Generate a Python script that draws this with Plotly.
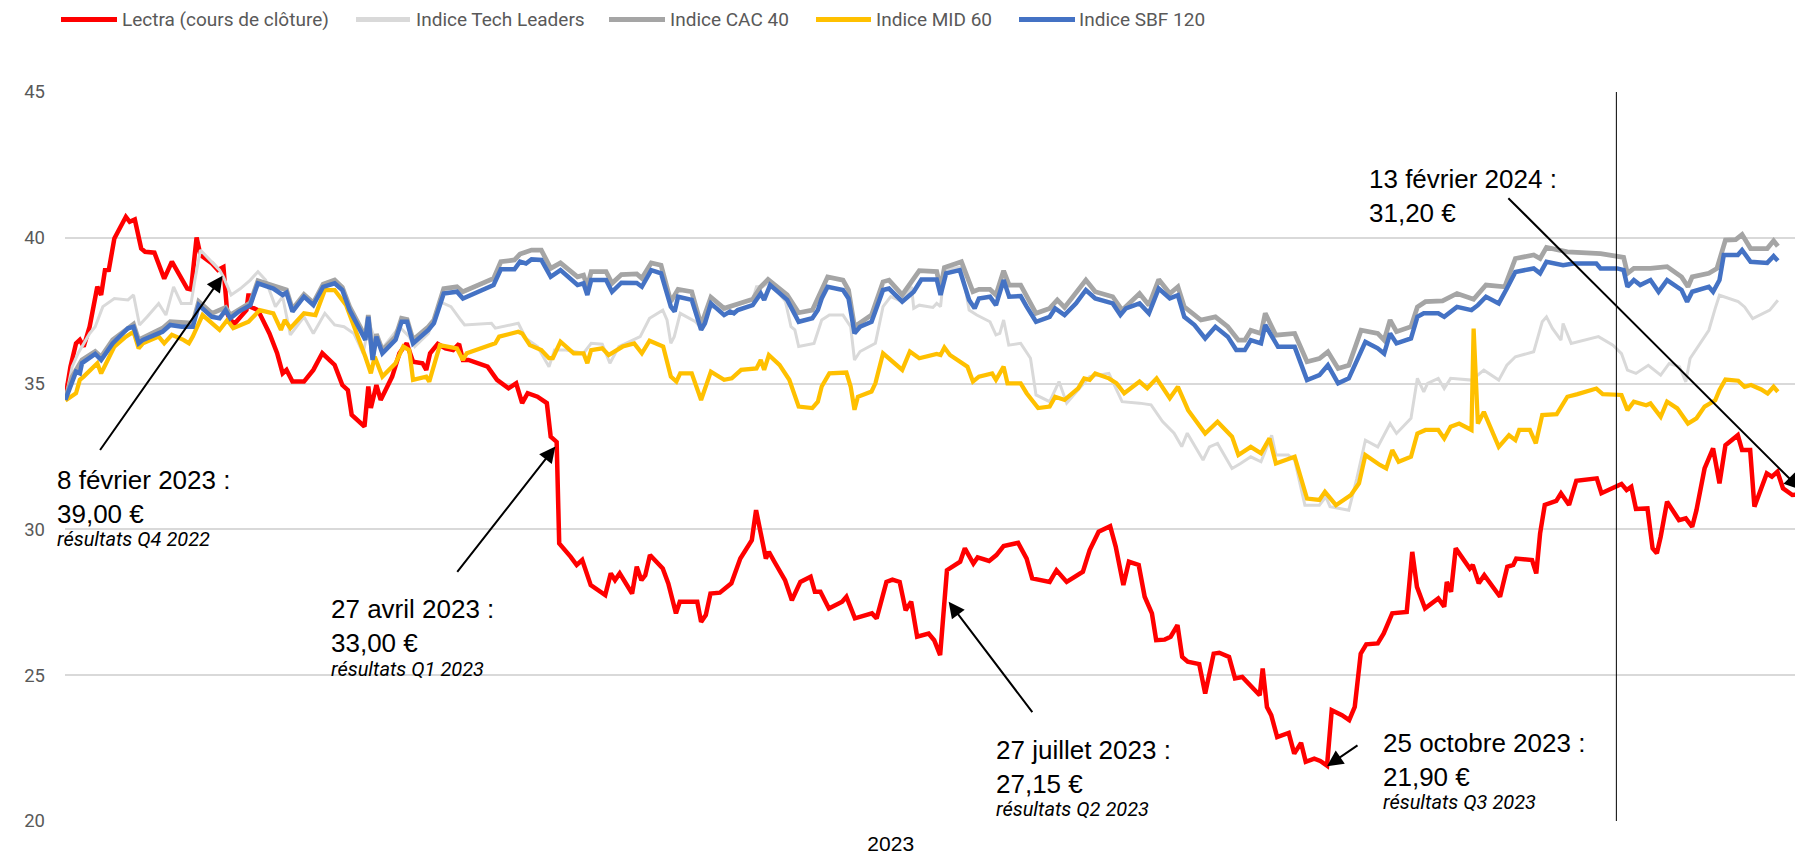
import pandas as pd
from plotly import graph_objects as go

# jour 0 = 2 janvier 2023, valeurs en euros / indices rebasés
START = pd.Timestamp("2023-01-02")

lectra = [(0, 34.5), (1.2, 35.58), (2.5, 36.38), (3.4, 36.5), (4.3, 36.27), (5.7, 36.95), (7.5, 38.32), (8.4, 38.04),
          (9.3, 38.89), (10.2, 38.9), (11.5, 39.98), (14.2, 40.72), (15.1, 40.55), (16.3, 40.63), (17.8, 39.63),
          (18.7, 39.52), (20.9, 39.49), (23.2, 38.6), (25.0, 39.18), (28.6, 38.26), (29.5, 38.23), (30.8, 40.01),
          (31.7, 39.41), (34.4, 39.12), (35.8, 38.9), (37.1, 39.0), (38.0, 37.41), (38.7, 37.18), (39.8, 37.07),
          (42.5, 37.52), (43.0, 38.09), (43.4, 37.64), (45.2, 37.52), (47.9, 36.72), (49.7, 36.04), (51.0, 35.35),
          (51.9, 35.47), (53.3, 35.07), (56.0, 35.07), (58.2, 35.47), (60.3, 36.04), (63.2, 35.64), (65.0, 34.95),
          (66.3, 34.78), (67.2, 33.93), (70.2, 33.53), (71.1, 34.9), (71.7, 34.16), (73.0, 34.95), (74.0, 34.44),
          (76.7, 35.24), (78.4, 36.04), (80.1, 36.38), (81.6, 35.75), (83.8, 35.7), (84.7, 35.47), (85.6, 36.04),
          (87.4, 36.36), (89.2, 36.21), (91.0, 36.15), (92.4, 36.36), (93.3, 35.81), (94.6, 35.81), (99.1, 35.58),
          (101.3, 35.13), (104.0, 34.84), (105.8, 35.01), (107.2, 34.33), (108.5, 34.67), (110.8, 34.55),
          (113.0, 34.33), (113.9, 33.18), (115.3, 33.0), (115.9, 29.52), (118.6, 29.06), (120.0, 28.78),
          (121.3, 28.95), (123.3, 28.09), (126.7, 27.75), (128.0, 28.49), (129.0, 28.26), (130.1, 28.49),
          (133.0, 27.8), (134.1, 28.72), (135.2, 28.26), (136.1, 28.43), (137.2, 29.12), (140.2, 28.66),
          (141.5, 28.15), (143.3, 27.12), (144.2, 27.52), (148.3, 27.52), (149.2, 26.83), (150.3, 27.06),
          (151.4, 27.8), (153.6, 27.83), (156.3, 28.15), (158.4, 29.0), (161.1, 29.63), (162.1, 30.66),
          (164.4, 29.0), (165.1, 29.23), (166.4, 28.89), (168.9, 28.26), (170.5, 27.57), (172.5, 28.2),
          (174.9, 28.38), (175.9, 27.86), (177.2, 27.86), (179.2, 27.29), (182.3, 27.52), (183.3, 27.69),
          (185.3, 26.95), (189.3, 27.12), (190.4, 26.95), (192.7, 28.2), (194.1, 28.28), (195.8, 28.2),
          (197.2, 27.23), (198.5, 27.52), (199.9, 26.32), (202.6, 26.43), (203.9, 26.2), (205.3, 25.69),
          (206.9, 28.6), (208.7, 28.78), (210.0, 28.89), (211.1, 29.35), (213.1, 28.83), (214.1, 29.04),
          (216.8, 28.92), (218.5, 29.12), (220.2, 29.43), (223.6, 29.54), (225.6, 29.0), (226.9, 28.32),
          (231.0, 28.2), (232.6, 28.6), (235.0, 28.2), (238.8, 28.55), (240.4, 29.29), (242.5, 29.92),
          (245.2, 30.11), (246.5, 29.41), (248.3, 28.09), (249.6, 28.89), (251.9, 28.78), (253.3, 27.69),
          (255.0, 27.12), (256.0, 26.2), (258.0, 26.22), (259.4, 26.32), (261.0, 26.72), (262.1, 25.63),
          (263.4, 25.46), (266.1, 25.38), (267.5, 24.37), (269.5, 25.74), (270.8, 25.77), (273.1, 25.63),
          (274.5, 24.89), (276.2, 24.94), (278.3, 24.6), (280.3, 24.31), (281.0, 25.23), (282.0, 23.91),
          (283.0, 23.63), (284.4, 22.88), (287.1, 23.02), (288.4, 22.31), (290.0, 22.68), (291.1, 22.03),
          (293.1, 22.14), (294.5, 22.06), (296.1, 21.9), (297.2, 23.8), (299.6, 23.63), (301.3, 23.46),
          (302.6, 23.91), (304.0, 25.74), (305.3, 26.06), (308.0, 26.09), (309.4, 26.43), (311.4, 27.12),
          (314.8, 27.17), (316.1, 29.23), (317.2, 28.03), (319.1, 27.29), (322.2, 27.63), (323.6, 27.35),
          (324.2, 28.2), (325.2, 27.86), (326.3, 29.35), (329.6, 28.66), (330.3, 28.78), (331.7, 28.15),
          (333.0, 28.43), (336.7, 27.69), (338.4, 28.72), (339.8, 28.78), (340.5, 29.0), (344.2, 28.95),
          (345.2, 28.49), (346.1, 29.86), (347.2, 30.84), (349.9, 30.98), (351.0, 31.24), (352.9, 30.84),
          (354.6, 31.67), (359.4, 31.75), (360.5, 31.24), (362.1, 31.35), (365.2, 31.56), (366.4, 31.35),
          (367.5, 31.46), (368.6, 30.7), (371.3, 30.72), (372.5, 29.35), (373.5, 29.18), (374.4, 29.75),
          (375.9, 30.95), (378.7, 30.32), (380.3, 30.38), (381.8, 30.09), (382.8, 30.66), (384.7, 32.09),
          (386.7, 32.78), (388.2, 31.58), (389.6, 32.89), (392.5, 33.23), (393.5, 32.72), (395.4, 32.72),
          (396.4, 30.78), (399.3, 31.92), (400.5, 31.81), (401.8, 31.98), (403.1, 31.41), (405.3, 31.18),
          (407.2, 31.2)]

tech_leaders = [(0, 34.44), (1.6, 35.58), (3.0, 36.04), (5.7, 36.72), (7.0, 36.95), (8.8, 37.64), (11.5, 37.92),
                (14.7, 37.87), (16.0, 38.04), (17.4, 37.01), (19.2, 37.29), (21.9, 37.75), (23.6, 37.35),
                (25.4, 38.32), (27.2, 37.75), (29.5, 37.75), (30.4, 38.55), (31.7, 39.58), (36.2, 38.89),
                (37.1, 38.66), (38.9, 38.04), (41.1, 38.26), (43.4, 38.55), (45.2, 38.84), (47.0, 38.55),
                (49.3, 37.64), (51.0, 37.98), (52.8, 36.67), (56.0, 37.29), (58.2, 36.72), (60.9, 37.41),
                (63.2, 37.01), (65.4, 36.95), (67.7, 36.72), (69.9, 36.04), (71.3, 37.07), (73.0, 36.38),
                (74.4, 36.21), (78.4, 36.95), (80.7, 36.61), (82.0, 36.27), (85.2, 36.72), (87.9, 37.81),
                (90.5, 37.64), (92.8, 37.18), (93.7, 37.01), (100.0, 37.07), (100.9, 36.9), (106.3, 37.07),
                (108.1, 36.55), (110.8, 36.27), (113.5, 35.58), (114.8, 36.15), (117.5, 36.15), (121.6, 36.04),
                (123.4, 36.38), (126.0, 36.35), (127.8, 35.7), (129.9, 36.27), (133.5, 36.5), (134.9, 36.61),
                (137.1, 37.24), (140.2, 37.52), (141.2, 37.18), (142.1, 36.38), (142.9, 36.61), (144.3, 37.41),
                (147.9, 37.12), (149.2, 36.9), (151.5, 37.64), (154.6, 37.52), (156.4, 37.64), (161.3, 37.87),
                (162.2, 38.32), (163.6, 38.32), (165.4, 38.49), (169.0, 37.81), (170.3, 36.95), (171.2, 36.84),
                (172.1, 36.27), (175.7, 36.38), (177.5, 37.18), (179.3, 37.35), (182.5, 37.35), (184.3, 36.95),
                (185.2, 35.81), (186.5, 36.1), (190.1, 36.38), (191.9, 37.64), (193.7, 37.98), (196.4, 37.81),
                (198.6, 38.32), (199.1, 37.58), (200.4, 37.69), (203.6, 37.61), (204.5, 37.75), (205.4, 37.64),
                (206.3, 38.9), (210.3, 39.0), (212.1, 37.52), (213.9, 37.35), (217.0, 37.12), (218.4, 36.67),
                (219.3, 36.72), (220.2, 37.18), (221.4, 36.32), (224.2, 36.38), (226.5, 35.87), (227.8, 34.61),
                (231.0, 34.38), (233.2, 35.07), (235.0, 34.33), (238.1, 34.84), (240.4, 35.24), (244.9, 35.35),
                (248.0, 34.38), (252.1, 34.33), (254.8, 34.27), (257.5, 33.7), (260.2, 33.3), (262.0, 32.84),
                (263.3, 33.3), (267.0, 32.38), (268.5, 32.83), (270.4, 32.95), (273.8, 32.09), (275.8, 32.26),
                (278.2, 32.49), (280.6, 32.32), (283.1, 33.23), (284.1, 32.55), (287.0, 32.55), (288.5, 32.38),
                (290.9, 30.83), (294.3, 30.83), (295.8, 31.12), (296.8, 30.78), (301.2, 30.66), (303.1, 31.75),
                (305.1, 33.06), (308.0, 32.83), (310.9, 33.63), (312.4, 33.29), (315.8, 33.81), (317.3, 35.18),
                (318.8, 34.72), (319.7, 35.01), (322.2, 35.18), (323.6, 34.83), (325.1, 35.18), (330.0, 35.12),
                (332.9, 35.46), (336.4, 35.12), (338.3, 35.63), (340.3, 35.92), (343.2, 36.03), (344.6, 36.09),
                (346.6, 37.12), (347.6, 37.29), (349.0, 36.89), (351.0, 36.49), (351.5, 37.06), (353.4, 36.38),
                (359.8, 36.61), (363.2, 36.32), (365.2, 36.03), (366.6, 35.46), (368.6, 35.35), (371.5, 35.63),
                (374.4, 35.29), (376.4, 35.69), (378.8, 35.58), (380.3, 35.06), (381.3, 35.86), (385.7, 36.83),
                (387.2, 37.58), (388.2, 38.03), (392.6, 37.81), (394.1, 37.63), (396.0, 37.23), (398.5, 37.41),
                (400.0, 37.52), (401.9, 37.86)]

cac40 = [(0, 34.5), (1.6, 35.24), (3.9, 35.81), (7.0, 36.1), (8.4, 35.92), (11.1, 36.5), (16.0, 37.04), (17.2, 36.5),
         (22.8, 36.9), (24.6, 37.12), (29.9, 37.07), (31.3, 37.81), (34.4, 37.41), (37.6, 37.61), (38.7, 37.35),
         (43.4, 37.77), (45.2, 38.53), (48.8, 38.34), (51.9, 38.21), (53.3, 37.55), (56.0, 38.06), (58.2, 37.77),
         (60.5, 38.41), (63.2, 38.55), (65.0, 38.3), (66.7, 37.64), (70.4, 36.61), (71.1, 37.35), (72.1, 35.92),
         (73.0, 36.7), (74.4, 36.15), (77.5, 36.61), (78.9, 37.24), (80.2, 37.2), (81.6, 36.5), (85.2, 36.95),
         (86.5, 37.18), (88.8, 38.26), (91.9, 38.32), (93.3, 38.15), (100.5, 38.61), (102.2, 39.18), (105.4, 39.24),
         (106.7, 39.44), (109.4, 39.58), (111.7, 39.58), (113.9, 38.95), (116.2, 39.14), (120.2, 38.66),
         (121.6, 38.72), (122.5, 38.32), (123.4, 38.84), (126.9, 38.84), (128.3, 38.44), (130.5, 38.74),
         (134.1, 38.76), (135.3, 38.61), (137.5, 39.14), (139.8, 39.06), (142.1, 37.81), (143.8, 38.23),
         (147.0, 38.15), (149.2, 37.01), (151.5, 37.96), (154.6, 37.58), (157.8, 37.73), (161.3, 37.89),
         (163.2, 38.32), (164.9, 38.57), (169.4, 38.04), (172.1, 37.43), (175.3, 37.52), (178.9, 38.66),
         (182.5, 38.55), (183.8, 38.21), (185.2, 36.95), (189.2, 37.35), (191.9, 38.49), (193.3, 38.55),
         (196.4, 38.04), (200.4, 38.87), (204.5, 38.84), (205.4, 38.26), (206.3, 38.98), (210.3, 39.18),
         (213.0, 38.15), (214.4, 38.23), (217.0, 38.23), (218.4, 38.04), (220.2, 38.87), (221.5, 38.38),
         (224.2, 38.38), (227.8, 37.41), (231.0, 37.58), (232.8, 37.87), (234.5, 37.61), (239.5, 38.55),
         (241.7, 38.15), (245.8, 37.98), (248.0, 37.52), (252.1, 38.09), (254.3, 37.69), (256.6, 38.57),
         (259.2, 38.09), (261.1, 38.32), (262.6, 37.63), (266.5, 37.18), (269.9, 37.29), (272.8, 36.95),
         (275.3, 36.49), (276.8, 36.49), (278.2, 36.83), (280.6, 36.72), (281.6, 37.41), (284.1, 36.66),
         (288.5, 36.72), (291.4, 35.75), (294.3, 35.86), (296.3, 36.09), (298.7, 35.52), (301.2, 35.63),
         (304.1, 36.83), (308.0, 36.72), (309.5, 36.49), (310.9, 37.18), (312.4, 36.78), (315.8, 36.95),
         (317.3, 37.63), (319.2, 37.81), (323.2, 37.84), (326.6, 38.09), (330.5, 37.89), (333.4, 38.38),
         (337.8, 38.32), (340.3, 39.29), (344.6, 39.41), (346.1, 39.29), (347.6, 39.67), (352.5, 39.52),
         (360.3, 39.46), (363.2, 39.37), (365.7, 39.33), (366.6, 38.78), (368.1, 38.95), (372.0, 38.95),
         (375.9, 39.01), (379.3, 38.66), (380.8, 38.32), (381.8, 38.66), (385.7, 38.78), (387.6, 38.95),
         (389.6, 39.92), (392.0, 39.94), (393.5, 40.11), (395.5, 39.63), (399.4, 39.63), (400.9, 39.9),
         (401.9, 39.71)]

mid60 = [(0, 34.42), (2.5, 34.67), (3.4, 35.13), (4.3, 35.24), (7.5, 35.7), (8.4, 35.35), (11.5, 36.27), (14.2, 36.61),
         (16.0, 36.78), (17.2, 36.21), (18.2, 36.38), (21.9, 36.61), (23.2, 36.38), (25.0, 36.67), (27.7, 36.5),
         (29.0, 36.38), (29.9, 36.61), (32.2, 37.35), (36.2, 36.84), (38.0, 37.18), (39.4, 36.9), (43.0, 37.12),
         (45.6, 37.52), (48.8, 37.41), (50.6, 36.84), (51.5, 37.18), (52.8, 36.9), (56.0, 37.41), (58.7, 37.35),
         (60.9, 38.21), (63.2, 38.21), (65.9, 37.69), (70.4, 35.92), (71.7, 35.35), (72.6, 35.92), (74.4, 35.24),
         (77.5, 35.7), (79.3, 36.27), (80.7, 36.15), (81.6, 35.13), (84.7, 35.24), (85.4, 35.07), (87.9, 36.32),
         (91.9, 36.21), (93.3, 35.81), (94.2, 36.04), (100.9, 36.38), (101.8, 36.61), (106.3, 36.78), (107.2, 36.72),
         (109.0, 36.32), (111.7, 36.15), (113.5, 35.87), (114.4, 35.87), (116.2, 36.44), (119.3, 36.04),
         (121.6, 36.04), (122.5, 35.7), (123.4, 36.15), (126.0, 36.21), (127.5, 35.98), (130.8, 36.27),
         (133.5, 36.38), (135.3, 36.04), (137.1, 36.47), (140.3, 36.27), (142.1, 35.24), (143.4, 35.07),
         (144.3, 35.35), (147.0, 35.35), (149.2, 34.44), (151.5, 35.41), (154.6, 35.13), (156.4, 35.18),
         (158.6, 35.47), (162.2, 35.52), (163.2, 35.81), (164.0, 35.47), (165.1, 35.98), (167.6, 35.64),
         (169.9, 35.13), (172.1, 34.21), (175.3, 34.16), (176.6, 34.38), (177.5, 34.9), (179.3, 35.35),
         (183.3, 35.38), (184.3, 34.9), (185.2, 34.1), (186.0, 34.55), (189.2, 34.73), (190.1, 35.01),
         (191.9, 36.04), (196.4, 35.47), (198.2, 36.1), (200.4, 35.87), (204.5, 36.02), (205.4, 35.98),
         (206.3, 36.24), (207.6, 35.98), (211.7, 35.58), (213.0, 35.07), (214.4, 35.24), (217.5, 35.35),
         (218.4, 35.13), (220.2, 35.58), (221.1, 35.01), (224.2, 35.01), (225.6, 34.67), (228.3, 34.16),
         (231.0, 34.21), (232.3, 34.55), (234.5, 34.44), (237.7, 34.84), (239.1, 35.18), (240.4, 35.13),
         (241.7, 35.35), (244.9, 35.18), (246.7, 35.01), (248.5, 34.67), (252.1, 35.07), (253.9, 34.84),
         (256.1, 35.18), (259.2, 34.5), (261.1, 34.89), (263.5, 34.09), (267.5, 33.29), (270.4, 33.69),
         (273.8, 33.18), (275.3, 32.55), (278.2, 32.83), (280.6, 32.61), (282.6, 33.12), (284.1, 32.26),
         (288.5, 32.49), (291.4, 31.06), (294.3, 31.01), (295.6, 31.29), (298.2, 30.83), (301.7, 31.18),
         (303.6, 31.58), (305.1, 32.55), (308.5, 32.21), (310.0, 32.09), (311.4, 32.72), (312.9, 32.32),
         (315.8, 32.49), (317.3, 33.29), (319.2, 33.41), (322.2, 33.41), (323.6, 33.12), (325.1, 33.52),
         (327.1, 33.63), (330.0, 33.41), (330.5, 36.89), (331.5, 33.63), (332.9, 34.03), (336.4, 32.83),
         (338.8, 33.23), (340.3, 33.06), (341.2, 33.41), (343.7, 33.41), (345.1, 32.95), (346.6, 33.92),
         (350.0, 33.95), (352.5, 34.55), (354.9, 34.64), (359.3, 34.83), (360.8, 34.64), (365.2, 34.61),
         (366.6, 34.09), (368.1, 34.38), (371.0, 34.26), (372.0, 34.32), (374.4, 33.86), (375.9, 34.38),
         (378.3, 34.15), (380.8, 33.63), (382.8, 33.81), (384.7, 34.21), (387.2, 34.43), (388.2, 34.78),
         (389.6, 35.14), (392.6, 35.1), (394.1, 34.89), (395.6, 34.95), (398.0, 34.8), (399.5, 34.66),
         (400.9, 34.89), (401.9, 34.72)]

sbf120 = [(0, 34.44), (1.6, 35.13), (2.5, 35.41), (3.4, 35.35), (3.9, 35.7), (7.0, 36.02), (8.4, 35.81), (11.1, 36.38),
          (14.7, 36.9), (16.0, 36.95), (17.2, 36.38), (18.2, 36.5), (22.8, 36.78), (24.6, 37.01), (27.3, 36.95),
          (29.9, 36.95), (31.3, 37.69), (34.4, 37.29), (36.2, 37.24), (37.6, 37.52), (38.7, 37.24), (40.7, 37.47),
          (43.4, 37.69), (45.2, 38.44), (48.8, 38.26), (51.0, 38.04), (51.9, 38.12), (53.3, 37.47), (56.0, 37.98),
          (58.2, 37.69), (60.5, 38.32), (63.2, 38.44), (65.0, 38.21), (66.7, 37.52), (70.4, 36.5), (71.1, 37.29),
          (72.1, 35.81), (73.0, 36.61), (74.4, 36.04), (77.5, 36.5), (78.9, 37.12), (80.2, 37.12), (81.6, 36.38),
          (85.2, 36.84), (86.5, 37.07), (88.8, 38.09), (91.9, 38.15), (93.3, 37.92), (100.5, 38.38), (102.2, 38.92),
          (105.4, 38.92), (106.7, 39.18), (108.1, 39.12), (109.4, 39.26), (111.7, 39.24), (113.9, 38.66),
          (116.2, 38.89), (120.2, 38.38), (121.6, 38.44), (122.5, 38.04), (123.4, 38.55), (126.9, 38.55),
          (128.3, 38.15), (130.5, 38.46), (134.1, 38.45), (135.3, 38.32), (137.5, 38.89), (139.8, 38.78),
          (142.1, 37.64), (143.0, 37.47), (143.8, 37.98), (147.0, 37.87), (149.2, 36.84), (150.1, 37.07),
          (151.5, 37.75), (154.6, 37.35), (156.0, 37.47), (156.9, 37.41), (157.8, 37.52), (161.3, 37.69),
          (163.2, 38.09), (164.0, 37.87), (165.4, 38.38), (169.4, 37.87), (170.8, 37.52), (172.1, 37.12),
          (175.3, 37.24), (176.6, 37.52), (177.5, 37.92), (178.9, 38.32), (182.5, 38.21), (183.8, 37.92),
          (185.2, 36.72), (186.5, 36.95), (189.2, 37.12), (190.6, 37.64), (191.9, 38.21), (193.3, 38.26),
          (196.4, 37.81), (199.1, 38.15), (200.9, 38.57), (204.5, 38.57), (205.4, 38.04), (206.7, 38.78),
          (209.9, 38.89), (212.1, 37.87), (213.4, 37.58), (214.4, 37.92), (217.0, 37.98), (218.4, 37.69),
          (220.2, 38.55), (221.5, 37.98), (224.2, 38.0), (225.6, 37.64), (227.8, 37.12), (231.0, 37.29),
          (232.3, 37.58), (234.5, 37.35), (237.2, 37.75), (239.5, 38.21), (241.7, 37.92), (245.8, 37.75),
          (247.6, 37.35), (248.9, 37.58), (252.1, 37.75), (254.3, 37.41), (256.6, 38.26), (259.2, 37.92),
          (261.1, 38.03), (262.6, 37.29), (265.0, 37.01), (267.5, 36.55), (269.9, 36.95), (272.8, 36.61),
          (274.8, 36.15), (276.8, 36.15), (278.2, 36.49), (280.6, 36.38), (281.6, 37.01), (284.6, 36.26),
          (288.5, 36.26), (291.4, 35.12), (294.3, 35.29), (296.3, 35.63), (298.7, 35.01), (301.2, 35.18),
          (303.1, 35.81), (305.1, 36.43), (308.0, 36.21), (309.5, 36.03), (310.9, 36.72), (312.4, 36.38),
          (315.8, 36.55), (317.3, 37.29), (318.8, 37.41), (322.2, 37.41), (323.6, 37.29), (326.6, 37.63),
          (330.0, 37.52), (331.5, 37.69), (333.4, 37.98), (336.4, 37.75), (338.3, 38.26), (340.3, 38.83),
          (344.6, 38.95), (346.1, 38.78), (347.6, 39.18), (351.5, 39.06), (353.9, 39.12), (359.3, 39.12),
          (360.3, 38.95), (364.2, 38.95), (365.7, 38.89), (366.6, 38.32), (368.1, 38.55), (369.6, 38.38),
          (372.0, 38.55), (373.9, 38.15), (375.9, 38.55), (379.3, 38.21), (380.6, 37.81), (381.8, 38.15),
          (385.7, 38.32), (386.7, 38.15), (388.2, 38.55), (389.2, 39.41), (392.5, 39.41), (393.5, 39.58),
          (395.5, 39.18), (399.4, 39.14), (400.9, 39.37), (401.9, 39.21)]

series = [lectra, tech_leaders, cac40, mid60, sbf120]
names = ["Lectra (cours de clôture)", "Indice Tech Leaders", "Indice CAC 40", "Indice MID 60", "Indice SBF 120"]
colors = ["#FF0000", "#D9D9D9", "#A5A5A5", "#FFC000", "#4472C4"]
widths = [4.5, 3, 4.75, 4.25, 4.5]

y_ticks = [20, 25, 30, 35, 40, 45]
year_label = "2023"
year_label_day = 193.7
year_end_day = 364  # 1er janvier 2024

# (texte, prix, commentaire, jour pointe, valeur pointe, jour depart fleche, valeur depart fleche)
callouts = [
    ("8 février 2023 :", "39,00 €", "résultats Q4 2022", 36.9, 38.7, 7.9, 32.67),
    ("27 avril 2023 :", "33,00 €", "résultats Q1 2023", 115.0, 32.84, 91.7, 28.49),
    ("27 juillet 2023 :", "27,15 €", "résultats Q2 2023", 207.3, 27.52, 227.2, 23.68),
    ("25 octobre 2023 :", "21,90 €", "résultats Q3 2023", 296.1, 21.88, 303.6, 22.63),
    ("13 février 2024 :", "31,20 €", "", 407.2, 31.37, 338.3, 41.41),
]
# coin haut-gauche des blocs de texte, en pixels de l'image finale
callout_pos = [(55, 463, 525), (329, 592, 655), (994, 733, 795), (1381, 726, 788), (1367, 162, None)]
legend_pos = [(61, 117, 119.5), (356, 410, 414), (609, 665, 668), (816, 871, 874), (1019, 1075, 1077)]

# la page html ajoute 8 px de marge au corps : on decale la figure d'autant
PAGE_PAD = 8


def day(d):
    return START + pd.Timedelta(days=d)


# pixels de l'image -> coordonnees "paper" (zone de trace 65..1803 x 92..821)
def px(x):
    return (x - 65) / 1738


def py(y):
    return (821 - y) / 729


fig = go.Figure()
for pts, name, color, w in zip(series, names, colors, widths):
    fig.add_trace(go.Scatter(
        x=[day(d) for d, v in pts],
        y=[v for d, v in pts],
        mode="lines",
        name=name,
        line=dict(color=color, width=w),
        showlegend=False,
    ))

shapes = [dict(type="line", xref="x", yref="y", x0=day(year_end_day), x1=day(year_end_day), y0=20, y1=45,
               line=dict(color="#000000", width=1))]
annotations = []

# legende faite a la main (traits epais comme dans Excel)
for (x0, x1, xt), name, color in zip(legend_pos, names, colors):
    shapes.append(dict(type="line", xref="paper", yref="paper", x0=px(x0), x1=px(x1), y0=py(19.5), y1=py(19.5),
                       line=dict(color=color, width=5)))
    annotations.append(dict(xref="paper", yref="paper", x=px(xt), y=py(19.5), text=name, showarrow=False,
                            xanchor="left", yanchor="middle",
                            font=dict(family="Roboto", size=19, color="#595959")))

for (title, price, note, hx, hy, tx, ty), (lx, top, note_top) in zip(callouts, callout_pos):
    annotations.append(dict(xref="x", yref="y", x=day(hx), y=hy, axref="x", ayref="y", ax=day(tx), ay=ty,
                            text="", showarrow=True, arrowhead=2, arrowsize=1.6, arrowwidth=2,
                            arrowcolor="#000000"))
    annotations.append(dict(xref="paper", yref="paper", x=px(lx), y=py(top), text=title + "<br>" + price,
                            showarrow=False, xanchor="left", yanchor="top", align="left",
                            font=dict(family="Liberation Sans", size=26, color="#000000")))
    if note:
        annotations.append(dict(xref="paper", yref="paper", x=px(lx), y=py(note_top), text=note,
                                showarrow=False, xanchor="left", yanchor="top", align="left",
                                font=dict(family="Roboto", size=20, color="#000000", style="italic")))

fig.update_layout(
    template="none",
    width=1803 - PAGE_PAD,
    height=856 - PAGE_PAD,
    margin=dict(l=65 - PAGE_PAD, r=0, t=92 - PAGE_PAD, b=35),
    plot_bgcolor="white",
    paper_bgcolor="white",
    showlegend=False,
    shapes=shapes,
    annotations=annotations,
)

fig.update_xaxes(
    range=[START - pd.Timedelta(hours=2), day(407.8)],
    showgrid=False, zeroline=False, showline=False, ticks="",
    tickvals=[day(year_label_day)], ticktext=[year_label],
    tickfont=dict(family="Liberation Sans", size=21, color="#000000"),
    ticklabelstandoff=8,
)
fig.update_yaxes(
    range=[20, 45], tickvals=y_ticks,
    showgrid=True, gridcolor="#D9D9D9", gridwidth=1.5,
    zeroline=False, showline=False, ticks="",
    tickfont=dict(family="Roboto", size=18.5, color="#595959"),
    ticklabelstandoff=19,
)

fig.write_html("out.html")
